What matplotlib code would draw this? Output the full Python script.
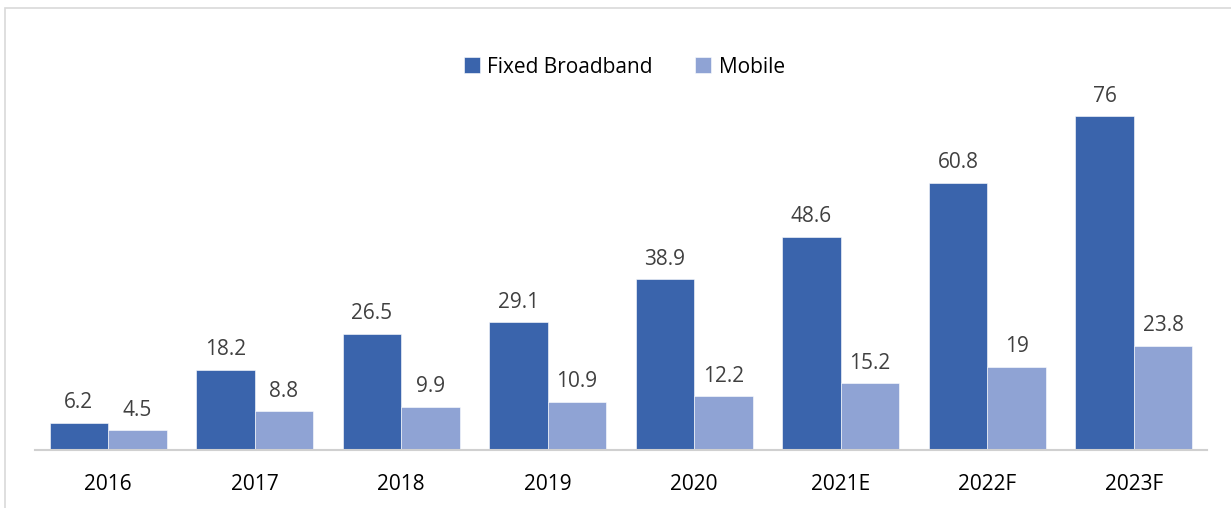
import matplotlib

matplotlib.use("Agg")

import matplotlib.pyplot as plt
import numpy as np
from matplotlib.patches import Rectangle


years = ["2016", "2017", "2018", "2019", "2020", "2021E", "2022F", "2023F"]
fixed_broadband = [6.2, 18.2, 26.5, 29.1, 38.9, 48.6, 60.8, 76]
mobile = [4.5, 8.8, 9.9, 10.9, 12.2, 15.2, 19, 23.8]
fixed_labels = ["6.2", "18.2", "26.5", "29.1", "38.9", "48.6", "60.8", "76"]
mobile_labels = ["4.5", "8.8", "9.9", "10.9", "12.2", "15.2", "19", "23.8"]

FIXED_COLOR = "#3A64AC"
MOBILE_COLOR = "#8FA3D4"

plt.rcParams["font.family"] = ["Open Sans", "DejaVu Sans"]

fig = plt.figure(figsize=(12.31, 5.08), dpi=100)
ax = fig.add_axes([0.0284, 0.1142, 0.9521, 0.7775])

x = np.arange(len(years))
width = 0.4
bars_fixed = ax.bar(x - width / 2, fixed_broadband, width, color=FIXED_COLOR,
                    edgecolor="white", linewidth=0.4, label="Fixed Broadband")
bars_mobile = ax.bar(x + width / 2, mobile, width, color=MOBILE_COLOR,
                     edgecolor="white", linewidth=0.4, label="Mobile")

for bars, labels in ((bars_fixed, fixed_labels), (bars_mobile, mobile_labels)):
    for bar, text in zip(bars, labels):
        ax.annotate(text, (bar.get_x() + bar.get_width() / 2, bar.get_height()),
                    xytext=(0, 7), textcoords="offset points",
                    ha="center", va="bottom", fontsize=15, color="#404040")

ax.set_xlim(-0.5, len(years) - 0.5)
ax.set_ylim(0, 90)
ax.set_xticks(x)
ax.set_xticklabels(years, fontsize=15, color="black")
ax.tick_params(axis="x", length=0, pad=17)
ax.set_yticks([])
for side in ("top", "right", "left"):
    ax.spines[side].set_visible(False)
ax.spines["bottom"].set_color("#D0D0D0")
ax.spines["bottom"].set_linewidth(1.5)

fig.legend(loc="center", bbox_to_anchor=(0.507, 0.868), ncol=2, frameon=False,
           fontsize=15, handlelength=0.8, handleheight=0.8, handletextpad=0.35,
           columnspacing=2.0)

# light frame around the chart area, cut off at right and bottom
fig.patches.append(Rectangle((5 / 1231, -0.1), 1.2, (508 - 8) / 508 + 0.1,
                             transform=fig.transFigure, fill=False,
                             edgecolor="#D9D9D9", linewidth=1.2))

fig.savefig("out.png", dpi=100)
